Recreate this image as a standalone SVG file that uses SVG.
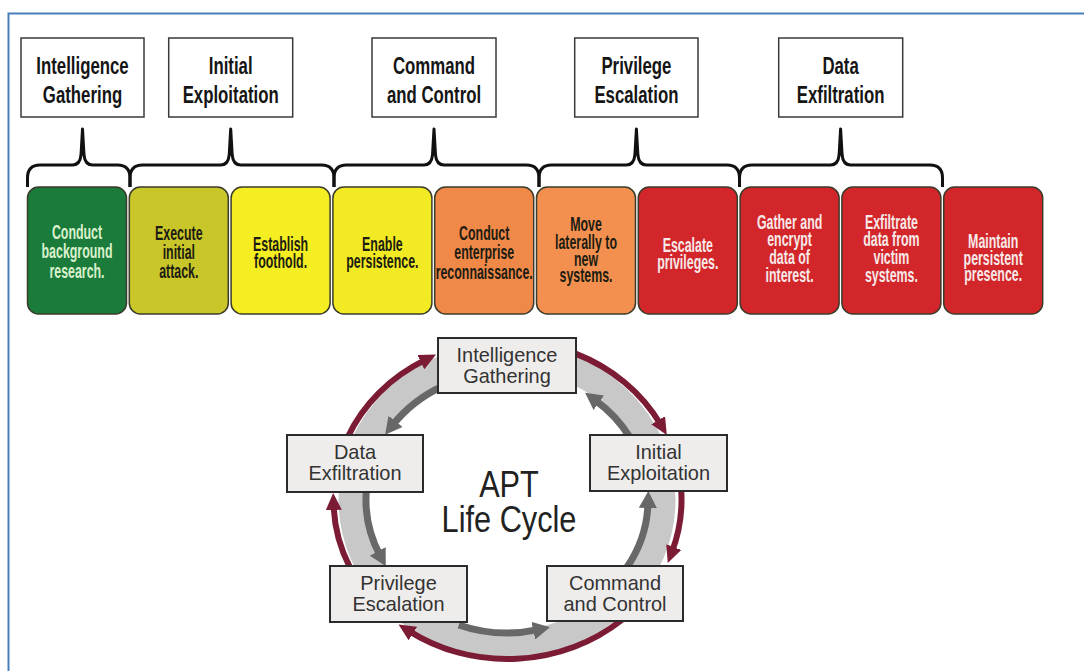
<svg xmlns="http://www.w3.org/2000/svg" width="1084" height="671" viewBox="0 0 1084 671">
<style>
.lbl rect{fill:#fff;stroke:#3a3a3a;stroke-width:1.5}
.lbl text{font-family:"Liberation Sans",Arial,sans-serif;font-weight:bold;font-size:24px;fill:#151515;text-anchor:middle}
.brace path{fill:none;stroke:#111;stroke-width:3;stroke-linejoin:round}
.step rect{stroke:#3b3b2b;stroke-width:1.5}
.step text{font-family:"Liberation Sans",Arial,sans-serif;font-weight:bold;font-size:20px;text-anchor:middle}
.gr text{fill:#d9f1cc}
.dk text{fill:#1c1c12}
.lt text{fill:#f7e9e9}
.cyc rect{fill:#efedec;stroke:#2b2b2b;stroke-width:2}
.cyc text{font-family:"Liberation Sans",Arial,sans-serif;font-size:21px;fill:#333;text-anchor:middle}
.mar{fill:none;stroke:#7b1c34;stroke-width:6;marker-end:url(#hm)}
.gry{fill:none;stroke:#686868;stroke-width:7;marker-end:url(#hg)}
.title{font-family:"Liberation Sans",Arial,sans-serif;font-size:37px;fill:#222;text-anchor:middle}
</style>
<defs>
<marker id="hm" markerUnits="userSpaceOnUse" markerWidth="18" markerHeight="16" refX="5" refY="8" orient="auto" viewBox="0 0 18 16">
<path d="M0,0 L17,8 L0,16 z" fill="#7b1c34"/>
</marker>
<marker id="hg" markerUnits="userSpaceOnUse" markerWidth="18" markerHeight="18" refX="5" refY="9" orient="auto" viewBox="0 0 18 18">
<path d="M0,0 L17,9 L0,18 z" fill="#686868"/>
</marker>
</defs>
<rect width="1084" height="671" fill="#fff"/>
<path d="M8.5,671 L8.5,13.5 L1084,13.5" fill="none" stroke="#4a7ebb" stroke-width="2"/>

<!-- phase labels -->
<g id="lbl-intel" class="lbl"><rect x="21" y="38" width="123" height="79"/>
<text transform="translate(82.5,74) scale(0.7,1)"><tspan x="0" y="0">Intelligence</tspan><tspan x="0" y="29">Gathering</tspan></text></g>
<g id="lbl-initial" class="lbl"><rect x="168.7" y="38" width="124" height="79"/>
<text transform="translate(230.7,74) scale(0.7,1)"><tspan x="0" y="0">Initial</tspan><tspan x="0" y="29">Exploitation</tspan></text></g>
<g id="lbl-cc" class="lbl"><rect x="372" y="38" width="124" height="79"/>
<text transform="translate(434,74) scale(0.7,1)"><tspan x="0" y="0">Command</tspan><tspan x="0" y="29">and Control</tspan></text></g>
<g id="lbl-priv" class="lbl"><rect x="574.7" y="38" width="123.3" height="79"/>
<text transform="translate(636.4,74) scale(0.7,1)"><tspan x="0" y="0">Privilege</tspan><tspan x="0" y="29">Escalation</tspan></text></g>
<g id="lbl-data" class="lbl"><rect x="778.7" y="38" width="124" height="79"/>
<text transform="translate(840.6,74) scale(0.7,1)"><tspan x="0" y="0">Data</tspan><tspan x="0" y="29">Exfiltration</tspan></text></g>

<!-- braces -->
<g id="braces" class="brace">
<path d="M27.5,187 L27.5,178 Q27.5,165 40,165 L72.5,165 Q80,165 81,155 L82.5,129 L84,155 Q85,165 92.5,165 L117.5,165 Q130,165 130,178 L130,187"/>
<path d="M130,187 L130,178 Q130,165 142.5,165 L220.7,165 Q228.2,165 229.2,155 L230.7,129 L232.2,155 Q233.2,165 240.7,165 L321.5,165 Q334,165 334,178 L334,187"/>
<path d="M334,187 L334,178 Q334,165 346.5,165 L424,165 Q431.5,165 432.5,155 L434,129 L435.5,155 Q436.5,165 444,165 L526.5,165 Q539,165 539,178 L539,187"/>
<path d="M539,187 L539,178 Q539,165 551.5,165 L626.4,165 Q633.9,165 634.9,155 L636.4,129 L637.9,155 Q638.9,165 646.4,165 L727,165 Q739.5,165 739.5,178 L739.5,187"/>
<path d="M739.5,187 L739.5,178 Q739.5,165 752,165 L830.6,165 Q838.1,165 839.1,155 L840.6,129 L842.1,155 Q843.1,165 850.6,165 L930,165 Q942.5,165 942.5,178 L942.5,187"/>
</g>

<!-- steps -->
<g id="step1" class="step gr"><rect x="27.5" y="187" width="99" height="127" rx="11" fill="#1b7b3b"/>
<text transform="translate(77,0) scale(0.62,1)"><tspan x="0" y="239">Conduct</tspan><tspan x="0" y="258">background</tspan><tspan x="0" y="278">research.</tspan></text></g>
<g id="step2" class="step dk"><rect x="129.3" y="187" width="99" height="127" rx="11" fill="#c9c62a"/>
<text transform="translate(178.8,0) scale(0.62,1)"><tspan x="0" y="240">Execute</tspan><tspan x="0" y="259">initial</tspan><tspan x="0" y="278">attack.</tspan></text></g>
<g id="step3" class="step dk"><rect x="231.1" y="187" width="99" height="127" rx="11" fill="#f5ee22"/>
<text transform="translate(280.6,0) scale(0.62,1)"><tspan x="0" y="251">Establish</tspan><tspan x="0" y="268">foothold.</tspan></text></g>
<g id="step4" class="step dk"><rect x="332.9" y="187" width="99" height="127" rx="11" fill="#f2ea22"/>
<text transform="translate(382.4,0) scale(0.62,1)"><tspan x="0" y="251">Enable</tspan><tspan x="0" y="268">persistence.</tspan></text></g>
<g id="step5" class="step dk"><rect x="434.7" y="187" width="99" height="127" rx="11" fill="#f08848"/>
<text transform="translate(484.2,0) scale(0.62,1)"><tspan x="0" y="240">Conduct</tspan><tspan x="0" y="259">enterprise</tspan><tspan x="0" y="279">reconnaissance.</tspan></text></g>
<g id="step6" class="step dk"><rect x="536.5" y="187" width="99" height="127" rx="11" fill="#f3904f"/>
<text transform="translate(586,0) scale(0.62,1)"><tspan x="0" y="231">Move</tspan><tspan x="0" y="249">laterally to</tspan><tspan x="0" y="266">new</tspan><tspan x="0" y="282">systems.</tspan></text></g>
<g id="step7" class="step lt"><rect x="638.3" y="187" width="99" height="127" rx="11" fill="#d2262a"/>
<text transform="translate(687.8,0) scale(0.62,1)"><tspan x="0" y="252">Escalate</tspan><tspan x="0" y="269">privileges.</tspan></text></g>
<g id="step8" class="step lt"><rect x="740.1" y="187" width="99" height="127" rx="11" fill="#d2262a"/>
<text transform="translate(789.6,0) scale(0.62,1)"><tspan x="0" y="229">Gather and</tspan><tspan x="0" y="246">encrypt</tspan><tspan x="0" y="264">data of</tspan><tspan x="0" y="282">interest.</tspan></text></g>
<g id="step9" class="step lt"><rect x="841.9" y="187" width="99" height="127" rx="11" fill="#d2262a"/>
<text transform="translate(891.4,0) scale(0.62,1)"><tspan x="0" y="229">Exfiltrate</tspan><tspan x="0" y="246">data from</tspan><tspan x="0" y="264">victim</tspan><tspan x="0" y="282">systems.</tspan></text></g>
<g id="step10" class="step lt"><rect x="943.7" y="187" width="99" height="127" rx="11" fill="#d2262a"/>
<text transform="translate(993.2,0) scale(0.62,1)"><tspan x="0" y="248">Maintain</tspan><tspan x="0" y="265">persistent</tspan><tspan x="0" y="281">presence.</tspan></text></g>

<!-- cycle connectors -->
<g id="connectors">
<ellipse cx="507" cy="500" rx="155" ry="144" fill="none" stroke="#c8c8c8" stroke-width="27"/>
<path class="mar" d="M347.3,437.9 A174,159 0 0 1 425.3,359.9"/>
<path class="mar" d="M575.5,353.6 A174,159 0 0 1 660.7,424.6"/>
<path class="mar" d="M681.1,488.9 A174,159 0 0 1 672,551.8"/>
<path class="mar" d="M621.7,620 A174,159 0 0 1 408.7,630.9"/>
<path class="mar" d="M349.8,567.2 A174,159 0 0 1 333.6,505"/>
<path class="gry" d="M443,386 A141,128 0 0 0 392.5,425.3"/>
<path class="gry" d="M630.3,437.9 A141,128 0 0 0 594.8,399.8"/>
<path class="gry" d="M626.6,567.8 A141,128 0 0 0 648,502.9"/>
<path class="gry" d="M458.8,625 A141,133 0 0 0 538.2,629.7"/>
<path class="gry" d="M366.4,490 A141,128 0 0 0 380.1,555.7"/>
</g>

<!-- cycle nodes -->
<g id="c-intel" class="cyc"><rect x="438" y="338" width="138" height="55"/>
<text transform="translate(507,0) scale(0.95,1)"><tspan x="0" y="362.5">Intelligence</tspan><tspan x="0" y="383.5">Gathering</tspan></text></g>
<g id="c-data" class="cyc"><rect x="287" y="435" width="136" height="57"/>
<text transform="translate(355,0) scale(0.95,1)"><tspan x="0" y="459.5">Data</tspan><tspan x="0" y="480.5">Exfiltration</tspan></text></g>
<g id="c-initial" class="cyc"><rect x="590" y="435" width="137" height="56"/>
<text transform="translate(658.5,0) scale(0.95,1)"><tspan x="0" y="459.5">Initial</tspan><tspan x="0" y="480.5">Exploitation</tspan></text></g>
<g id="c-priv" class="cyc"><rect x="330" y="566" width="137" height="56"/>
<text transform="translate(398.5,0) scale(0.95,1)"><tspan x="0" y="590.5">Privilege</tspan><tspan x="0" y="611.5">Escalation</tspan></text></g>
<g id="c-cc" class="cyc"><rect x="547" y="566" width="136" height="55"/>
<text transform="translate(615,0) scale(0.95,1)"><tspan x="0" y="590.5">Command</tspan><tspan x="0" y="611.5">and Control</tspan></text></g>
<g id="c-title">
<text class="title" transform="translate(509,0) scale(0.83,1)"><tspan x="0" y="497">APT</tspan><tspan x="0" y="532">Life Cycle</tspan></text>
</g>
</svg>
